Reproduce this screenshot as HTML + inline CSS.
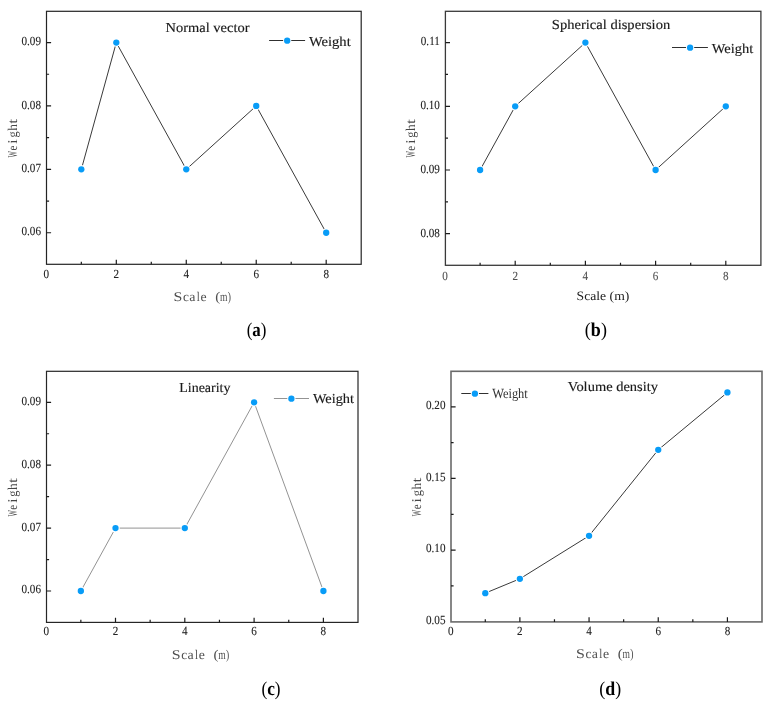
<!DOCTYPE html>
<html><head><meta charset="utf-8"><style>
html,body{margin:0;padding:0;background:#fff;}
body{width:772px;height:707px;overflow:hidden;}
svg{display:block;}
text{font-family:"Liberation Serif",serif;}
.tl{font-size:12.4px;fill:#222;stroke:#222;stroke-width:0.1px;}
.tt{font-size:13.7px;fill:#1a1a1a;stroke:#1a1a1a;stroke-width:0.15px;}
.lg{font-size:13.7px;fill:#1a1a1a;stroke:#1a1a1a;stroke-width:0.15px;}
.lgt{font-size:14px;fill:#333;}
.yl{font-size:13.4px;fill:#464646;}
.xl{font-size:13.2px;fill:#505050;}
.xls{font-size:12.8px;fill:#222;}
.sb{font-size:19.5px;fill:#000;}
</style></head><body>
<svg width="772" height="707" viewBox="0 0 772 707" style="will-change:transform">
<rect width="772" height="707" fill="#fff"/>
<polyline points="81.33,169.35 116.31,42.55 186.27,169.35 256.23,105.95 326.19,232.75" fill="none" stroke="#3a3a3a" stroke-width="1.00" stroke-linejoin="round"/>
<circle cx="81.33" cy="169.35" r="4.3" fill="#fff"/>
<circle cx="116.31" cy="42.55" r="4.3" fill="#fff"/>
<circle cx="186.27" cy="169.35" r="4.3" fill="#fff"/>
<circle cx="256.23" cy="105.95" r="4.3" fill="#fff"/>
<circle cx="326.19" cy="232.75" r="4.3" fill="#fff"/>
<circle cx="81.33" cy="169.35" r="3.15" fill="#089cf7"/>
<circle cx="116.31" cy="42.55" r="3.15" fill="#089cf7"/>
<circle cx="186.27" cy="169.35" r="3.15" fill="#089cf7"/>
<circle cx="256.23" cy="105.95" r="3.15" fill="#089cf7"/>
<circle cx="326.19" cy="232.75" r="3.15" fill="#089cf7"/>
<rect x="46.50" y="11.30" width="314.70" height="253.00" fill="none" stroke="#242424" stroke-width="1.20"/>
<path d="M116.31 264.30v-4.6 M186.27 264.30v-4.6 M256.23 264.30v-4.6 M326.19 264.30v-4.6 M81.33 264.30v-2.6 M151.29 264.30v-2.6 M221.25 264.30v-2.6 M291.21 264.30v-2.6 M46.50 232.75h4.6 M46.50 169.35h4.6 M46.50 105.95h4.6 M46.50 42.55h4.6 M46.50 201.05h2.6 M46.50 137.65h2.6 M46.50 74.25h2.6" stroke="#1c1c1c" stroke-width="1.2" fill="none"/>
<text transform="translate(46.35 277.70) scale(0.900 1) skewX(0.05)" text-anchor="middle" class="tl" style="fill:#222;stroke:#222">0</text>
<text transform="translate(116.31 277.70) scale(0.900 1) skewX(0.05)" text-anchor="middle" class="tl" style="fill:#222;stroke:#222">2</text>
<text transform="translate(186.27 277.70) scale(0.900 1) skewX(0.05)" text-anchor="middle" class="tl" style="fill:#222;stroke:#222">4</text>
<text transform="translate(256.23 277.70) scale(0.900 1) skewX(0.05)" text-anchor="middle" class="tl" style="fill:#222;stroke:#222">6</text>
<text transform="translate(326.19 277.70) scale(0.900 1) skewX(0.05)" text-anchor="middle" class="tl" style="fill:#222;stroke:#222">8</text>
<text transform="translate(41.00 235.35) scale(0.900 1) skewX(0.05)" text-anchor="end" class="tl">0.06</text>
<text transform="translate(41.00 171.95) scale(0.900 1) skewX(0.05)" text-anchor="end" class="tl">0.07</text>
<text transform="translate(41.00 108.55) scale(0.900 1) skewX(0.05)" text-anchor="end" class="tl">0.08</text>
<text transform="translate(41.00 45.15) scale(0.900 1) skewX(0.05)" text-anchor="end" class="tl">0.09</text>
<text transform="translate(165.60 32.00) skewX(0.05)" class="tt" textLength="83.90" lengthAdjust="spacingAndGlyphs">Normal vector</text>
<path d="M269.10 40.50H305.10" stroke="#303030" stroke-width="1.0"/>
<circle cx="287.20" cy="40.65" r="4.1" fill="#fff"/>
<circle cx="287.20" cy="40.65" r="3.15" fill="#089cf7"/>
<text transform="translate(308.90 45.70) skewX(0.05)" class="lg" textLength="41.80" lengthAdjust="spacingAndGlyphs">Weight</text>
<text transform="translate(17.30 157.41) rotate(-90) scale(0.508 1) skewX(0.05)" class="yl">W</text>
<text transform="translate(17.30 150.43) rotate(-90) scale(0.827 1) skewX(0.05)" class="yl">e</text>
<text transform="translate(17.30 143.64) rotate(-90) scale(1.193 1) skewX(0.05)" class="yl">i</text>
<text transform="translate(17.30 137.53) rotate(-90) scale(0.920 1) skewX(0.05)" class="yl">g</text>
<text transform="translate(17.30 130.73) rotate(-90) scale(1.001 1) skewX(0.05)" class="yl">h</text>
<text transform="translate(17.30 123.77) rotate(-90) scale(1.281 1) skewX(0.05)" class="yl">t</text>
<text transform="translate(173.54 300.90) scale(1.206 1) skewX(0.05)" class="xl">S</text>
<text transform="translate(182.99 300.90) scale(1.010 1) skewX(0.05)" class="xl">c</text>
<text transform="translate(189.31 300.90) scale(1.055 1) skewX(0.05)" class="xl">a</text>
<text transform="translate(196.68 300.90) scale(0.828 1) skewX(0.05)" class="xl">l</text>
<text transform="translate(200.56 300.90) scale(1.044 1) skewX(0.05)" class="xl">e</text>
<text transform="translate(215.25 300.90) scale(1.121 1) skewX(0.05)" class="xl">(</text>
<text transform="translate(219.90 300.90) scale(0.726 1) skewX(0.05)" class="xl">m</text>
<text transform="translate(227.79 300.90) scale(0.737 1) skewX(0.05)" class="xl">)</text>
<text transform="translate(246.70 335.60) skewX(0.05)" class="sb" textLength="19.80" lengthAdjust="spacingAndGlyphs">(<tspan font-weight="bold">a</tspan>)</text>
<polyline points="480.10,170.00 515.20,106.30 585.40,42.60 655.60,170.00 725.80,106.30" fill="none" stroke="#3a3a3a" stroke-width="1.00" stroke-linejoin="round"/>
<circle cx="480.10" cy="170.00" r="4.3" fill="#fff"/>
<circle cx="515.20" cy="106.30" r="4.3" fill="#fff"/>
<circle cx="585.40" cy="42.60" r="4.3" fill="#fff"/>
<circle cx="655.60" cy="170.00" r="4.3" fill="#fff"/>
<circle cx="725.80" cy="106.30" r="4.3" fill="#fff"/>
<circle cx="480.10" cy="170.00" r="3.15" fill="#089cf7"/>
<circle cx="515.20" cy="106.30" r="3.15" fill="#089cf7"/>
<circle cx="585.40" cy="42.60" r="3.15" fill="#089cf7"/>
<circle cx="655.60" cy="170.00" r="3.15" fill="#089cf7"/>
<circle cx="725.80" cy="106.30" r="3.15" fill="#089cf7"/>
<rect x="445.40" y="11.30" width="315.50" height="254.00" fill="none" stroke="#3a3a3a" stroke-width="1.30"/>
<path d="M515.20 265.30v-4.6 M585.40 265.30v-4.6 M655.60 265.30v-4.6 M725.80 265.30v-4.6 M480.10 265.30v-2.6 M550.30 265.30v-2.6 M620.50 265.30v-2.6 M690.70 265.30v-2.6 M445.40 233.70h4.6 M445.40 170.00h4.6 M445.40 106.30h4.6 M445.40 42.60h4.6 M445.40 201.85h2.6 M445.40 138.15h2.6 M445.40 74.45h2.6" stroke="#1c1c1c" stroke-width="1.2" fill="none"/>
<text transform="translate(445.00 279.80) scale(0.900 1) skewX(0.05)" text-anchor="middle" class="tl" style="fill:#505050;stroke:#505050">0</text>
<text transform="translate(515.20 279.80) scale(0.900 1) skewX(0.05)" text-anchor="middle" class="tl" style="fill:#505050;stroke:#505050">2</text>
<text transform="translate(585.40 279.80) scale(0.900 1) skewX(0.05)" text-anchor="middle" class="tl" style="fill:#505050;stroke:#505050">4</text>
<text transform="translate(655.60 279.80) scale(0.900 1) skewX(0.05)" text-anchor="middle" class="tl" style="fill:#505050;stroke:#505050">6</text>
<text transform="translate(725.80 279.80) scale(0.900 1) skewX(0.05)" text-anchor="middle" class="tl" style="fill:#505050;stroke:#505050">8</text>
<text transform="translate(439.90 236.50) scale(0.900 1) skewX(0.05)" text-anchor="end" class="tl">0.08</text>
<text transform="translate(439.90 172.80) scale(0.900 1) skewX(0.05)" text-anchor="end" class="tl">0.09</text>
<text transform="translate(439.90 109.10) scale(0.900 1) skewX(0.05)" text-anchor="end" class="tl">0.10</text>
<text transform="translate(439.90 45.40) scale(0.900 1) skewX(0.05)" text-anchor="end" class="tl">0.11</text>
<text transform="translate(551.80 29.00) skewX(0.05)" class="tt" textLength="118.40" lengthAdjust="spacingAndGlyphs">Spherical dispersion</text>
<path d="M672.00 47.50H707.90" stroke="#303030" stroke-width="1.0"/>
<circle cx="690.10" cy="47.65" r="4.1" fill="#fff"/>
<circle cx="690.10" cy="47.65" r="3.15" fill="#089cf7"/>
<text transform="translate(711.80 52.50) skewX(0.05)" class="lg" textLength="41.50" lengthAdjust="spacingAndGlyphs">Weight</text>
<text transform="translate(415.30 157.61) rotate(-90) scale(0.508 1) skewX(0.05)" class="yl">W</text>
<text transform="translate(415.30 150.63) rotate(-90) scale(0.827 1) skewX(0.05)" class="yl">e</text>
<text transform="translate(415.30 143.84) rotate(-90) scale(1.193 1) skewX(0.05)" class="yl">i</text>
<text transform="translate(415.30 137.73) rotate(-90) scale(0.920 1) skewX(0.05)" class="yl">g</text>
<text transform="translate(415.30 130.93) rotate(-90) scale(1.001 1) skewX(0.05)" class="yl">h</text>
<text transform="translate(415.30 123.97) rotate(-90) scale(1.281 1) skewX(0.05)" class="yl">t</text>
<text transform="translate(576.60 299.50) skewX(0.05)" class="xls" textLength="52.70" lengthAdjust="spacingAndGlyphs">Scale (m)</text>
<text transform="translate(584.80 336.00) skewX(0.05)" class="sb" textLength="22.10" lengthAdjust="spacingAndGlyphs">(<tspan font-weight="bold">b</tspan>)</text>
<polyline points="80.85,591.00 115.50,528.10 184.80,528.10 254.10,402.30 323.40,591.00" fill="none" stroke="#939393" stroke-width="1.00" stroke-linejoin="round"/>
<circle cx="80.85" cy="591.00" r="4.3" fill="#fff"/>
<circle cx="115.50" cy="528.10" r="4.3" fill="#fff"/>
<circle cx="184.80" cy="528.10" r="4.3" fill="#fff"/>
<circle cx="254.10" cy="402.30" r="4.3" fill="#fff"/>
<circle cx="323.40" cy="591.00" r="4.3" fill="#fff"/>
<circle cx="80.85" cy="591.00" r="3.15" fill="#089cf7"/>
<circle cx="115.50" cy="528.10" r="3.15" fill="#089cf7"/>
<circle cx="184.80" cy="528.10" r="3.15" fill="#089cf7"/>
<circle cx="254.10" cy="402.30" r="3.15" fill="#089cf7"/>
<circle cx="323.40" cy="591.00" r="3.15" fill="#089cf7"/>
<rect x="46.50" y="371.30" width="311.50" height="251.10" fill="none" stroke="#262626" stroke-width="1.20"/>
<path d="M115.50 622.40v-4.6 M184.80 622.40v-4.6 M254.10 622.40v-4.6 M323.40 622.40v-4.6 M80.85 622.40v-2.6 M150.15 622.40v-2.6 M219.45 622.40v-2.6 M288.75 622.40v-2.6 M46.50 591.00h4.6 M46.50 528.10h4.6 M46.50 465.20h4.6 M46.50 402.30h4.6 M46.50 559.55h2.6 M46.50 496.65h2.6 M46.50 433.75h2.6" stroke="#1c1c1c" stroke-width="1.2" fill="none"/>
<text transform="translate(46.20 634.90) scale(0.900 1) skewX(0.05)" text-anchor="middle" class="tl" style="fill:#222;stroke:#222">0</text>
<text transform="translate(115.50 634.90) scale(0.900 1) skewX(0.05)" text-anchor="middle" class="tl" style="fill:#222;stroke:#222">2</text>
<text transform="translate(184.80 634.90) scale(0.900 1) skewX(0.05)" text-anchor="middle" class="tl" style="fill:#222;stroke:#222">4</text>
<text transform="translate(254.10 634.90) scale(0.900 1) skewX(0.05)" text-anchor="middle" class="tl" style="fill:#222;stroke:#222">6</text>
<text transform="translate(323.40 634.90) scale(0.900 1) skewX(0.05)" text-anchor="middle" class="tl" style="fill:#222;stroke:#222">8</text>
<text transform="translate(41.00 593.40) scale(0.900 1) skewX(0.05)" text-anchor="end" class="tl">0.06</text>
<text transform="translate(41.00 530.50) scale(0.900 1) skewX(0.05)" text-anchor="end" class="tl">0.07</text>
<text transform="translate(41.00 467.60) scale(0.900 1) skewX(0.05)" text-anchor="end" class="tl">0.08</text>
<text transform="translate(41.00 404.70) scale(0.900 1) skewX(0.05)" text-anchor="end" class="tl">0.09</text>
<text transform="translate(179.20 391.60) skewX(0.05)" class="tt" textLength="51.30" lengthAdjust="spacingAndGlyphs">Linearity</text>
<path d="M273.90 398.50H309.00" stroke="#939393" stroke-width="1.0"/>
<circle cx="291.40" cy="398.65" r="4.1" fill="#fff"/>
<circle cx="291.40" cy="398.65" r="3.15" fill="#089cf7"/>
<text transform="translate(312.90 402.70) skewX(0.05)" class="lg" textLength="41.10" lengthAdjust="spacingAndGlyphs">Weight</text>
<text transform="translate(17.30 516.61) rotate(-90) scale(0.508 1) skewX(0.05)" class="yl">W</text>
<text transform="translate(17.30 509.63) rotate(-90) scale(0.827 1) skewX(0.05)" class="yl">e</text>
<text transform="translate(17.30 502.84) rotate(-90) scale(1.193 1) skewX(0.05)" class="yl">i</text>
<text transform="translate(17.30 496.73) rotate(-90) scale(0.920 1) skewX(0.05)" class="yl">g</text>
<text transform="translate(17.30 489.93) rotate(-90) scale(1.001 1) skewX(0.05)" class="yl">h</text>
<text transform="translate(17.30 482.97) rotate(-90) scale(1.281 1) skewX(0.05)" class="yl">t</text>
<text transform="translate(171.84 658.50) scale(1.206 1) skewX(0.05)" class="xl">S</text>
<text transform="translate(181.29 658.50) scale(1.010 1) skewX(0.05)" class="xl">c</text>
<text transform="translate(187.61 658.50) scale(1.055 1) skewX(0.05)" class="xl">a</text>
<text transform="translate(194.98 658.50) scale(0.828 1) skewX(0.05)" class="xl">l</text>
<text transform="translate(198.86 658.50) scale(1.044 1) skewX(0.05)" class="xl">e</text>
<text transform="translate(213.55 658.50) scale(1.121 1) skewX(0.05)" class="xl">(</text>
<text transform="translate(218.20 658.50) scale(0.726 1) skewX(0.05)" class="xl">m</text>
<text transform="translate(226.09 658.50) scale(0.737 1) skewX(0.05)" class="xl">)</text>
<text transform="translate(261.40 694.90) skewX(0.05)" class="sb" textLength="19.20" lengthAdjust="spacingAndGlyphs">(<tspan font-weight="bold">c</tspan>)</text>
<polyline points="485.29,593.13 519.88,578.80 589.06,535.80 658.24,449.80 727.42,392.47" fill="none" stroke="#3a3a3a" stroke-width="1.00" stroke-linejoin="round"/>
<circle cx="485.29" cy="593.13" r="4.3" fill="#fff"/>
<circle cx="519.88" cy="578.80" r="4.3" fill="#fff"/>
<circle cx="589.06" cy="535.80" r="4.3" fill="#fff"/>
<circle cx="658.24" cy="449.80" r="4.3" fill="#fff"/>
<circle cx="727.42" cy="392.47" r="4.3" fill="#fff"/>
<circle cx="485.29" cy="593.13" r="3.15" fill="#089cf7"/>
<circle cx="519.88" cy="578.80" r="3.15" fill="#089cf7"/>
<circle cx="589.06" cy="535.80" r="3.15" fill="#089cf7"/>
<circle cx="658.24" cy="449.80" r="3.15" fill="#089cf7"/>
<circle cx="727.42" cy="392.47" r="3.15" fill="#089cf7"/>
<rect x="451.00" y="371.30" width="311.00" height="250.60" fill="none" stroke="#6a6a6a" stroke-width="1.60"/>
<path d="M519.88 621.90v-4.6 M589.06 621.90v-4.6 M658.24 621.90v-4.6 M727.42 621.90v-4.6 M485.29 621.90v-2.6 M554.47 621.90v-2.6 M623.65 621.90v-2.6 M692.83 621.90v-2.6 M451.00 550.13h4.6 M451.00 478.47h4.6 M451.00 406.80h4.6 M451.00 585.96h2.6 M451.00 514.30h2.6 M451.00 442.63h2.6" stroke="#1c1c1c" stroke-width="1.2" fill="none"/>
<text transform="translate(450.70 634.60) scale(0.900 1) skewX(0.05)" text-anchor="middle" class="tl" style="fill:#222;stroke:#222">0</text>
<text transform="translate(519.88 634.60) scale(0.900 1) skewX(0.05)" text-anchor="middle" class="tl" style="fill:#222;stroke:#222">2</text>
<text transform="translate(589.06 634.60) scale(0.900 1) skewX(0.05)" text-anchor="middle" class="tl" style="fill:#222;stroke:#222">4</text>
<text transform="translate(658.24 634.60) scale(0.900 1) skewX(0.05)" text-anchor="middle" class="tl" style="fill:#222;stroke:#222">6</text>
<text transform="translate(727.42 634.60) scale(0.900 1) skewX(0.05)" text-anchor="middle" class="tl" style="fill:#222;stroke:#222">8</text>
<text transform="translate(445.50 623.90) scale(0.900 1) skewX(0.05)" text-anchor="end" class="tl">0.05</text>
<text transform="translate(445.50 552.23) scale(0.900 1) skewX(0.05)" text-anchor="end" class="tl">0.10</text>
<text transform="translate(445.50 480.57) scale(0.900 1) skewX(0.05)" text-anchor="end" class="tl">0.15</text>
<text transform="translate(445.50 408.90) scale(0.900 1) skewX(0.05)" text-anchor="end" class="tl">0.20</text>
<text transform="translate(567.80 390.70) skewX(0.05)" class="tt" textLength="90.20" lengthAdjust="spacingAndGlyphs">Volume density</text>
<path d="M461.30 393.50H488.40" stroke="#303030" stroke-width="1.0"/>
<circle cx="474.90" cy="393.65" r="4.1" fill="#fff"/>
<circle cx="474.90" cy="393.65" r="3.15" fill="#089cf7"/>
<text transform="translate(492.20 397.60) skewX(0.05)" class="lgt" textLength="35.60" lengthAdjust="spacingAndGlyphs">Weight</text>
<text transform="translate(421.30 516.21) rotate(-90) scale(0.508 1) skewX(0.05)" class="yl">W</text>
<text transform="translate(421.30 509.23) rotate(-90) scale(0.827 1) skewX(0.05)" class="yl">e</text>
<text transform="translate(421.30 502.44) rotate(-90) scale(1.193 1) skewX(0.05)" class="yl">i</text>
<text transform="translate(421.30 496.33) rotate(-90) scale(0.920 1) skewX(0.05)" class="yl">g</text>
<text transform="translate(421.30 489.53) rotate(-90) scale(1.001 1) skewX(0.05)" class="yl">h</text>
<text transform="translate(421.30 482.57) rotate(-90) scale(1.281 1) skewX(0.05)" class="yl">t</text>
<text transform="translate(576.04 657.60) scale(1.206 1) skewX(0.05)" class="xl">S</text>
<text transform="translate(585.49 657.60) scale(1.010 1) skewX(0.05)" class="xl">c</text>
<text transform="translate(591.81 657.60) scale(1.055 1) skewX(0.05)" class="xl">a</text>
<text transform="translate(599.18 657.60) scale(0.828 1) skewX(0.05)" class="xl">l</text>
<text transform="translate(603.06 657.60) scale(1.044 1) skewX(0.05)" class="xl">e</text>
<text transform="translate(617.75 657.60) scale(1.121 1) skewX(0.05)" class="xl">(</text>
<text transform="translate(622.40 657.60) scale(0.726 1) skewX(0.05)" class="xl">m</text>
<text transform="translate(630.29 657.60) scale(0.737 1) skewX(0.05)" class="xl">)</text>
<text transform="translate(599.30 694.50) skewX(0.05)" class="sb" textLength="21.90" lengthAdjust="spacingAndGlyphs">(<tspan font-weight="bold">d</tspan>)</text>
</svg>
</body></html>
